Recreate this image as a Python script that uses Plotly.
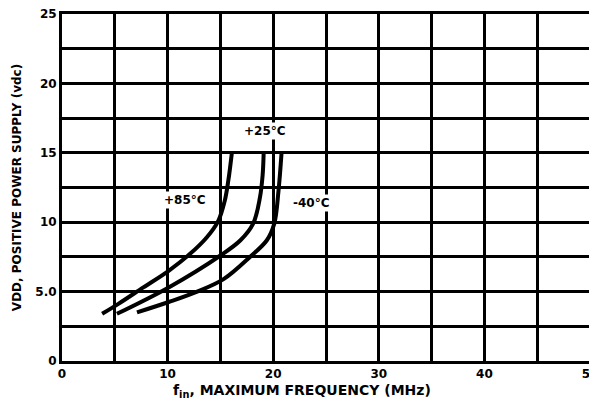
import plotly.graph_objects as go

# Data (x: MHz, y: Vdc)
x_85 = [3.8, 5.3, 7.7, 10.1, 12.1, 13.7, 14.8, 15.4, 15.75, 16.1]
y_85 = [3.4, 4.1, 5.3, 6.5, 7.7, 8.9, 10.1, 11.5, 13.0, 15.1]
x_25 = [5.2, 10.1, 15.0, 16.9, 18.1, 18.75, 19.0, 19.1]
y_25 = [3.4, 5.3, 7.6, 8.7, 9.9, 11.8, 13.4, 15.1]
x_m40 = [7.1, 10.1, 12.8, 15.3, 17.8, 19.4, 20.1, 20.5, 20.8]
y_m40 = [3.5, 4.25, 5.0, 5.9, 7.5, 8.7, 9.9, 12.25, 15.1]

x_ticks = [0, 10, 20, 30, 40, 50]
x_tick_labels = ["0", "10", "20", "30", "40", "50"]
y_ticks = [0, 5, 10, 15, 20, 25]
y_tick_labels = ["0", "5.0", "10", "15", "20", "25"]

labels = ["+85°C", "+25°C", "-40°C"]
label_x = [11.6, 19.2, 23.6]
label_y = [11.6, 16.6, 11.4]

x_title = "<b>f<sub>in</sub>, MAXIMUM FREQUENCY (MHz)</b>"
y_title = "<b>VDD, POSITIVE POWER SUPPLY (vdc)</b>"

FONT = "DejaVu Sans"

fig = go.Figure()
for xs, ys in [(x_85, y_85), (x_25, y_25), (x_m40, y_m40)]:
    fig.add_trace(go.Scatter(x=xs, y=ys, mode="lines",
                             line=dict(color="black", width=4, shape="spline", smoothing=1.0),
                             showlegend=False, hoverinfo="skip"))

for t, lx, ly in zip(labels, label_x, label_y):
    fig.add_annotation(x=lx, y=ly, text="<b>" + t + "</b>", showarrow=False,
                       bgcolor="white", font=dict(family=FONT, size=12, color="black"))

# x-axis title, placed slightly left of centre as in the reference
fig.add_annotation(xref="paper", yref="paper", x=0.455, y=0, yshift=-19,
                   xanchor="center", yanchor="top", showarrow=False,
                   text=x_title, font=dict(family=FONT, size=14, color="black"))

fig.update_layout(
    width=589, height=393,
    margin=dict(l=54, r=7, t=6, b=40),
    paper_bgcolor="white", plot_bgcolor="white",
    font=dict(family=FONT, size=12, color="black"),
    xaxis=dict(range=[0, 50], tickvals=x_ticks, ticktext=["<b>%s</b>" % s for s in x_tick_labels],
               showgrid=True, gridcolor="black", gridwidth=3,
               minor=dict(dtick=5, showgrid=True, gridcolor="black", gridwidth=3),
               showline=True, linecolor="black", linewidth=3, mirror=True,
               zeroline=False, ticks="", automargin=False, ticklabeloverflow="allow",
               tickfont=dict(family=FONT, size=12)),
    yaxis=dict(range=[0, 25], tickvals=y_ticks, ticktext=["<b>%s</b>" % s for s in y_tick_labels],
               showgrid=True, gridcolor="black", gridwidth=3,
               minor=dict(dtick=2.5, showgrid=True, gridcolor="black", gridwidth=3),
               showline=True, linecolor="black", linewidth=3, mirror=True,
               zeroline=False, ticks="", automargin=False, ticklabeloverflow="allow",
               tickfont=dict(family=FONT, size=12),
               title=dict(text=y_title, font=dict(family=FONT, size=12), standoff=12)),
)

fig.write_html("out.html")
